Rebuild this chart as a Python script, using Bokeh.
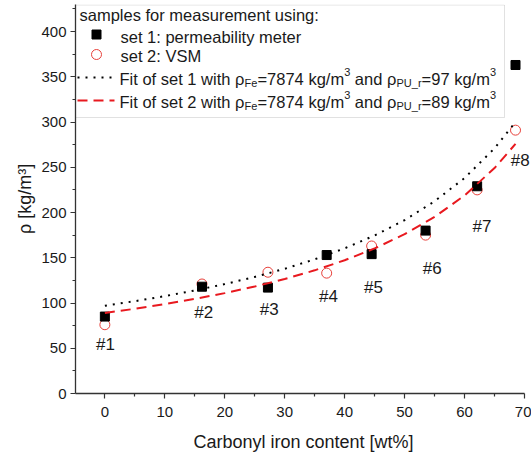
from bokeh.plotting import figure
from bokeh.models import Range1d, FixedTicker, BoxAnnotation, LabelSet, ColumnDataSource
from bokeh.core.properties import value
from bokeh.embed import file_html
from bokeh.resources import INLINE

# ---------------- data ----------------
content = [0, 16.2, 27.2, 37.0, 44.5, 53.5, 62.1, 68.5]
rho_set1 = [85, 118, 117, 153, 154, 180, 229, 363]
rho_set2 = [76, 121, 134, 133, 163, 175, 225, 291]

sample_labels = ["#1", "#2", "#3", "#4", "#5", "#6", "#7", "#8"]
label_x = [0.1, 16.5, 27.4, 37.3, 44.8, 54.6, 62.9, 69.3]
label_y = [54, 89, 93, 107, 117, 138, 185, 257]

fit_x = [0, 5, 10, 15, 20, 25, 30, 35, 40, 45, 50, 55, 60, 65, 68.5]
fit1_rho = [97.0, 102.0, 107.6, 113.9, 120.9, 128.8, 137.8, 148.3, 160.4,
            174.6, 191.6, 212.4, 238.1, 270.9, 299.9]
fit2_rho = [89.0, 93.6, 98.8, 104.5, 110.9, 118.2, 126.5, 136.1, 147.2,
            160.3, 176.0, 195.1, 218.8, 249.1, 275.8]

x_ticks = [0, 10, 20, 30, 40, 50, 60, 70]
x_minor = [5, 15, 25, 35, 45, 55, 65]
y_ticks = [0, 50, 100, 150, 200, 250, 300, 350, 400]
y_minor = [25, 75, 125, 175, 225, 275, 325, 375, 425]

# ---------------- layout ----------------
FONT = "Liberation Sans"
TXT = "#1a1a1a"
RED = "#e8191f"
X0, XAX = -4.9, 70.0
# frame in page pixels (x axis line ends at 524 = value 70)
FL, FAX, FT, FB = 75.0, 524.0, 4.0, 393.0
SX = (FAX - FL) / (XAX - X0)
X1 = XAX + (531 - FAX) / SX
Y0 = 0.0
Y1 = (FB - FT) / 0.905
SY = (FB - FT) / (Y1 - Y0)


def xd(px):
    return X0 + (px - FL) / SX


def yd(py):
    return Y0 + (FB - py) / SY


p = figure(width=531, height=456, x_range=Range1d(X0, X1), y_range=Range1d(Y0, Y1),
           output_backend="svg", toolbar_location=None,
           min_border_left=int(FL), min_border_right=0, min_border_top=int(FT),
           min_border_bottom=456 - int(FB))
p.outline_line_color = None
p.xgrid.visible = False
p.ygrid.visible = False
p.background_fill_color = "white"

for ax in (p.xaxis[0], p.yaxis[0]):
    ax.axis_line_color = "#333333"
    ax.axis_line_width = 1.3
    ax.major_tick_line_color = "#333333"
    ax.minor_tick_line_color = "#333333"
    ax.major_tick_line_width = 1.2
    ax.minor_tick_line_width = 1.2
    ax.major_tick_in = 0
    ax.major_tick_out = 5
    ax.minor_tick_in = 0
    ax.minor_tick_out = 3
    ax.major_label_text_font = FONT
    ax.major_label_text_font_size = "15px"
    ax.major_label_text_color = TXT
    ax.axis_label_text_font = FONT
    ax.axis_label_text_font_size = "18px"
    ax.axis_label_text_font_style = "normal"
    ax.axis_label_text_color = TXT

p.xaxis.ticker = FixedTicker(ticks=x_ticks, minor_ticks=x_minor)
p.yaxis.ticker = FixedTicker(ticks=y_ticks, minor_ticks=y_minor)
p.xaxis.bounds = (X0, XAX)
p.xaxis.axis_label = "Carbonyl iron content [wt%]"
p.yaxis.axis_label = "ρ [kg/m³]"
p.xaxis.major_label_standoff = 8
p.xaxis.axis_label_standoff = 12
p.yaxis.major_label_standoff = 4
p.yaxis.axis_label_standoff = 3

# ---------------- data glyphs ----------------
p.scatter(content, rho_set2, marker="circle", size=10, fill_color=None,
          line_color="#e8403a", line_width=1)
p.scatter(content, rho_set1, marker="square", size=9, color="black")
p.line(fit_x, fit1_rho, line_color="black", line_width=2, line_dash="2 6")
p.line(fit_x, fit2_rho, line_color=RED, line_width=2, line_dash="10 6")
labels = LabelSet(x="x", y="y", text="t",
                  source=ColumnDataSource(dict(x=label_x, y=label_y, t=sample_labels)),
                  text_align="center", text_baseline="middle",
                  text_font=value(FONT), text_font_size="17px", text_color=TXT)
p.add_layout(labels)

# ---------------- legend (manual, for sub/superscripts) ----------------
W = {' ': 278, '#': 556, '%': 889, '/': 278, ':': 278, '=': 584, '_': 556, '[': 278, ']': 278,
     'F': 611, 'P': 667, 'U': 722, 'V': 667, 'S': 667, 'M': 833,
     'a': 556, 'b': 556, 'c': 500, 'd': 556, 'e': 556, 'f': 278, 'g': 556, 'h': 556, 'i': 222,
     'k': 500, 'l': 222, 'm': 833, 'n': 556, 'o': 556, 'p': 556, 'r': 333, 's': 500, 't': 278,
     'u': 556, 'w': 722, 'y': 500, 'ρ': 580, '³': 333}


def tw(s, size):
    return sum(W.get(c, 556) for c in s) * size / 1000.0


LS = 16.5  # legend font size
SS = 11.0  # sub/sup size
box = BoxAnnotation(left=xd(75), right=xd(504), top=yd(4.5), bottom=yd(117),
                    fill_color="white", fill_alpha=1, line_color="#9a9a9a", line_width=1,
                    level="underlay")
p.add_layout(box)

norm = {"x": [], "y": [], "t": []}
small = {"x": [], "y": [], "t": []}


def put_line(x_px, base_px, segs):
    cx = x_px
    for txt, kind in segs:
        size = LS if kind == "n" else SS
        stripped = txt.lstrip(" ")
        cx += tw(txt[:len(txt) - len(stripped)], size)
        if kind == "n":
            norm["x"].append(xd(cx)); norm["y"].append(yd(base_px)); norm["t"].append(stripped)
        else:
            off = 4 if kind == "sub" else -7
            small["x"].append(xd(cx)); small["y"].append(yd(base_px + off)); small["t"].append(stripped)
        cx += tw(stripped, size)


put_line(79, 14, [("samples for measurement using:", "n")])
put_line(120, 36, [("set 1: permeability meter", "n")])
put_line(120, 55, [("set 2: VSM", "n")])
for base, txt_fit, pu in ((78, "1", "97"), (101, "2", "89")):
    put_line(119, base, [("Fit of set " + txt_fit + " with ρ", "n"), ("Fe", "sub"),
                         ("=7874 kg/m", "n"), ("3", "sup"), (" and ρ", "n"), ("PU_r", "sub"),
                         ("=" + pu + " kg/m", "n"), ("3", "sup")])

p.text(norm["x"], norm["y"], text=norm["t"], text_align="left", text_baseline="alphabetic",
       text_font=value(FONT), text_font_size="16.5px", text_color=TXT)
p.text(small["x"], small["y"], text=small["t"], text_align="left", text_baseline="alphabetic",
       text_font=value(FONT), text_font_size="11px", text_color=TXT)

p.scatter([xd(96)], [yd(34)], marker="square", size=9, color="black")
p.scatter([xd(96)], [yd(54)], marker="circle", size=10, fill_color=None,
          line_color="#e8403a", line_width=1)
p.line([xd(77), xd(114)], [yd(77), yd(77)], line_color="black", line_width=2, line_dash="2 6")
p.line([xd(77), xd(114)], [yd(100), yd(100)], line_color=RED, line_width=2, line_dash="10 6")

open("out.html", "w").write(file_html(p, INLINE))
